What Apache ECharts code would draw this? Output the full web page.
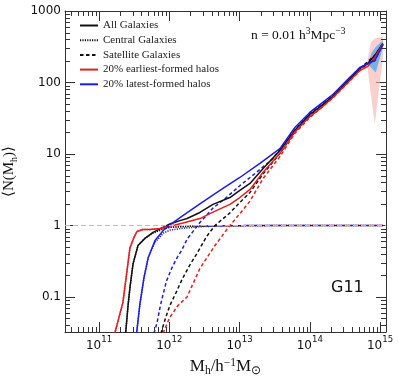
<!DOCTYPE html>
<html><head><meta charset="utf-8">
<script src="https://cdn.jsdelivr.net/npm/echarts@6/dist/echarts.min.js"></script>
<style>html,body{margin:0;padding:0;background:#fff}#c{width:399px;height:379px}</style>
</head><body><div id="c"></div>
<script>
// ---- tick labels ----
const xTickExps = [11, 12, 13, 14, 15];
const yTickValues = [0.1, 1, 10, 100, 1000];
const yTickLabels = ['0.1', '1', '10', '100', '1000'];

// ---- data (halo mass in h^-1 Msun, <N(M)>) ----
const allM = [2.27e11, 2.40e11, 2.59e11, 2.76e11, 3.05e11, 3.59e11, 4.51e11, 5.86e11, 8.13e11, 1.02e12, 1.42e12, 1.79e12, 2.73e12, 4.19e12, 7.30e12, 1.01e13, 1.41e13, 2.15e13, 3.76e13, 6.14e13, 1.0e14, 1.53e14, 2.13e14, 3.37e14, 5.16e14, 6.70e14, 8.43e14, 1.10e15];
const allN = [0.021, 0.032, 0.076, 0.136, 0.29, 0.525, 0.66, 0.80, 0.94, 1.05, 1.17, 1.25, 1.52, 1.97, 2.46, 3.09, 3.87, 6.2, 11.2, 21.5, 35.7, 49.1, 63.9, 100, 157, 184, 240, 351];

const earlyM = [1.58e11, 1.69e11, 2.19e11, 2.76e11, 3.15e11, 3.47e11, 4.23e11, 5.31e11, 7.38e11, 9.27e11, 1.21e12, 1.57e12, 2.73e12, 4.19e12, 7.30e12, 1.01e13, 1.41e13, 2.15e13, 3.76e13, 6.14e13, 1.0e14, 1.53e14, 2.13e14, 3.37e14, 5.16e14, 6.70e14, 8.43e14, 1.10e15];
const earlyN = [0.0246, 0.032, 0.084, 0.49, 0.68, 0.824, 0.879, 0.879, 0.908, 0.968, 1.016, 1.08, 1.25, 1.54, 1.97, 2.46, 3.19, 5.5, 10.2, 20.5, 33.4, 46.1, 61.7, 97, 147, 168, 224, 351];

const lateM = [3.36e11, 3.44e11, 3.83e11, 4.37e11, 5.03e11, 6.26e11, 8.22e11, 1.02e12, 1.58e12, 2.73e12, 5.26e12, 1.01e13, 1.95e13, 3.76e13, 6.14e13, 1.0e14, 1.53e14, 2.13e14, 3.37e14, 5.16e14, 6.70e14, 8.43e14, 1.10e15];
const lateN = [0.021, 0.032, 0.081, 0.187, 0.357, 0.617, 0.851, 1.016, 1.38, 2.01, 3.09, 4.69, 7.37, 11.9, 23.5, 38.1, 52.7, 68, 107, 162, 184, 203, 340];

const cenAllM = [2.27e11, 2.40e11, 2.59e11, 2.76e11, 3.05e11, 3.59e11, 4.51e11, 5.86e11, 8.13e11, 1.02e12, 1.67e12, 2.73e12, 1.0e13, 1.0e14, 1.10e15];
const cenAllN = [0.021, 0.032, 0.076, 0.136, 0.29, 0.525, 0.66, 0.78, 0.89, 0.94, 0.97, 0.985, 0.995, 1.0, 1.0];
const cenEarlyM = [1.58e11, 1.69e11, 2.19e11, 2.76e11, 3.15e11, 3.47e11, 4.23e11, 5.31e11, 7.38e11, 1.02e12, 2.0e12, 5.0e12, 1.0e14, 1.10e15];
const cenEarlyN = [0.0246, 0.032, 0.084, 0.49, 0.68, 0.824, 0.879, 0.879, 0.90, 0.94, 0.975, 0.99, 1.0, 1.0];
const cenLateM = [3.36e11, 3.44e11, 3.83e11, 4.37e11, 5.03e11, 6.26e11, 8.22e11, 1.02e12, 1.67e12, 2.73e12, 5.26e12, 1.0e13, 1.0e14, 1.10e15];
const cenLateN = [0.021, 0.032, 0.081, 0.187, 0.357, 0.58, 0.78, 0.86, 0.92, 0.96, 0.985, 0.995, 1.0, 1.0];

const satAllM = [7.62e11, 8.69e11, 1.02e12, 1.25e12, 1.52e12, 1.91e12, 2.48e12, 3.40e12, 4.47e12, 7.30e12, 1.01e13, 1.41e13, 2.15e13, 3.76e13, 6.14e13, 1.0e14, 2.13e14, 5.16e14, 8.43e14, 1.10e15];
const satAllN = [0.031, 0.048, 0.076, 0.115, 0.176, 0.267, 0.406, 0.70, 1.0, 1.5, 2.1, 2.9, 5.2, 10.2, 20.5, 34.7, 62.9, 156, 239, 350];
const satEarlyM = [8.13e11, 1.02e12, 1.33e12, 1.79e12, 2.73e12, 4.47e12, 7.30e12, 1.01e13, 1.41e13, 2.15e13, 3.76e13, 6.14e13, 1.0e14, 2.13e14, 5.16e14, 8.43e14, 1.10e15];
const satEarlyN = [0.031, 0.052, 0.076, 0.10, 0.25, 0.525, 1.0, 1.46, 2.19, 4.5, 9.2, 19.5, 32.4, 60.7, 146, 223, 350];
const satLateM = [6.05e11, 6.68e11, 7.38e11, 8.22e11, 9.19e11, 1.08e12, 1.27e12, 1.52e12, 1.79e12, 2.17e12, 2.73e12, 4.19e12, 6.62e12, 1.01e13, 1.77e13, 2.99e13, 5.21e13, 1.0e14, 2.13e14, 5.16e14, 8.43e14, 1.10e15];
const satLateN = [0.031, 0.043, 0.071, 0.112, 0.17, 0.25, 0.345, 0.46, 0.64, 0.82, 1.10, 1.75, 2.5, 3.6, 5.6, 8.6, 18.0, 37.1, 67, 161, 202, 339];

const bandEarlyM = [6.49e14, 7.40e14, 8.43e14, 9.62e14, 1.10e15];
const bandEarlyLo = [184, 70, 26, 77, 215];
const bandEarlyHi = [184, 364, 412, 425, 438];
const bandLateM = [6.70e14, 7.64e14, 8.71e14, 1.10e15];
const bandLateLo = [179, 157, 138, 309];
const bandLateHi = [184, 262, 317, 387];

// ---- axis limits ----
const X_MIN = Math.pow(10, 10.516), X_MAX = Math.pow(10, 15.085);
const Y_MIN = Math.pow(10, -1.49), Y_MAX = 1000;

const xMinor = [], yMinor = [];
for (let d = 10; d <= 14; d++) for (let k = 2; k <= 9; k++) { const v = k * Math.pow(10, d); if (v > X_MIN && v < X_MAX) xMinor.push(v); }
for (let d = -2; d <= 2; d++) for (let k = 2; k <= 9; k++) { const v = k * Math.pow(10, d); if (v > Y_MIN && v < Y_MAX) yMinor.push(v); }

const BLACK = '#111', RED = '#e41e1e', BLUE = '#1c1ce8', AXC = '#333';
const SOLID = 'solid', DASH = [3.5, 2.5], DOT = [1.2, 1.2];

function line(name, M, N, color, type, z) {
  return { name, type: 'line', data: M.map((m, i) => [m, N[i]]), symbol: 'none', showSymbol: false,
    lineStyle: { color, width: 1.5, type }, itemStyle: { color }, z, silent: true, animation: false };
}
function band(M, lo, hi, color) {
  return { type: 'custom', silent: true, z: 1, animation: false, data: M.map((m, i) => [m, lo[i], hi[i]]),
    encode: { x: 0, y: [1, 2] },
    renderItem: (params, api) => {
      if (params.dataIndex !== 0) return null;
      const pts = [];
      for (let i = 0; i < M.length; i++) pts.push(api.coord([M[i], lo[i]]));
      for (let i = M.length - 1; i >= 0; i--) pts.push(api.coord([M[i], hi[i]]));
      return { type: 'polygon', shape: { points: pts }, style: { fill: color } };
    } };
}
function minorSeries(vals, isX) {
  return { type: 'custom', silent: true, z: 10, animation: false, clip: false,
    data: vals.map(v => isX ? [v, Y_MIN] : [X_MIN, v]), encode: { x: 0, y: 1 },
    renderItem: (params, api) => {
      const cs = params.coordSys;
      const p = api.coord([api.value(0), api.value(1)]);
      const st = { stroke: AXC, lineWidth: 1 };
      if (isX) {
        const x = Math.round(p[0]) + 0.5, b = cs.y + cs.height, t = cs.y;
        return { type: 'group', children: [
          { type: 'line', shape: { x1: x, y1: b, x2: x, y2: b - 5 }, style: st },
          { type: 'line', shape: { x1: x, y1: t, x2: x, y2: t + 5 }, style: st }] };
      } else {
        const y = Math.round(p[1]) + 0.5, l = cs.x, r = cs.x + cs.width;
        return { type: 'group', children: [
          { type: 'line', shape: { x1: l, y1: y, x2: l + 5, y2: y }, style: st },
          { type: 'line', shape: { x1: r, y1: y, x2: r - 5, y2: y }, style: st }] };
      }
    } };
}
const near = (a, b) => Math.abs(Math.log10(a) - Math.log10(b)) < 1e-6;

const serif = 'Liberation Serif';
const chart = echarts.init(document.getElementById('c'), null, { renderer: 'canvas' });
const axLine = { show: true, lineStyle: { color: AXC, width: 1 } };
const majTick = { show: true, inside: true, length: 10, lineStyle: { color: AXC, width: 1 } };

const bandEarly = band(bandEarlyM, bandEarlyLo, bandEarlyHi, 'rgba(250,175,175,0.6)');
bandEarly.markLine = { silent: true, symbol: 'none', label: { show: false }, animation: false,
  lineStyle: { color: '#bbb', type: [5, 3], width: 1 }, data: [{ yAxis: 1 }] };

const option = {
  animation: false,
  backgroundColor: '#fff',
  grid: { left: 65, right: 13, top: 11, bottom: 47, outerBoundsMode: 'none' },
  title: [
    { text: '{t|n = 0.01 h}{p|3}{t|Mpc}{p|−3}', left: 251, top: 26, padding: 0,
      textStyle: { fontWeight: 'normal', rich: {
        t: { fontFamily: serif, fontSize: 13.5, fontWeight: 'normal', color: '#111', verticalAlign: 'bottom', lineHeight: 16 },
        p: { fontFamily: serif, fontSize: 9.5, fontWeight: 'normal', color: '#111', verticalAlign: 'top', lineHeight: 10 } } } },
    { text: 'G11', left: 331, top: 280, padding: 0,
      textStyle: { fontFamily: 'DejaVu Sans', fontSize: 16, fontWeight: 'normal', color: '#111' } }
  ],
  legend: {
    data: ['All Galaxies', 'Central Galaxies', 'Satellite Galaxies', '20% earliest-formed halos', '20% latest-formed halos'],
    orient: 'vertical', left: 79, top: 20, itemWidth: 18, itemHeight: 10, itemGap: 3.7, padding: 0,
    selectedMode: false, itemStyle: { opacity: 0 },
    textStyle: { fontFamily: serif, fontSize: 11, color: '#222' }
  },
  xAxis: [
    { type: 'log', logBase: 10, min: X_MIN, max: X_MAX, axisLine: axLine, axisTick: majTick, splitLine: { show: false },
      axisLabel: { showMinLabel: false, showMaxLabel: false, margin: 3,
        formatter: v => { const e = Math.round(Math.log10(v)); return (xTickExps.includes(e) && near(v, Math.pow(10, e))) ? '{b|10}{s|' + e + '}' : ''; },
        rich: {
          b: { fontFamily: 'DejaVu Sans', fontSize: 12, color: '#111', verticalAlign: 'bottom', lineHeight: 17 },
          s: { fontFamily: 'DejaVu Sans', fontSize: 8.5, color: '#111', verticalAlign: 'top', lineHeight: 10 } } },
      name: '{t|M}{b|h}{t|/h}{p|−1}{t|M}{b|⊙}', nameLocation: 'middle', nameGap: 12,
      nameTextStyle: { rich: {
        t: { fontFamily: serif, fontSize: 17, color: '#111', verticalAlign: 'middle', lineHeight: 20 },
        b: { fontFamily: serif, fontSize: 11.5, color: '#111', verticalAlign: 'bottom', lineHeight: 12 },
        p: { fontFamily: serif, fontSize: 11.5, color: '#111', verticalAlign: 'top', lineHeight: 12 } } } },
    { type: 'log', logBase: 10, min: X_MIN, max: X_MAX, position: 'top', axisLine: axLine, axisTick: majTick,
      axisLabel: { show: false }, splitLine: { show: false } }
  ],
  yAxis: [
    { type: 'log', logBase: 10, min: Y_MIN, max: Y_MAX, axisLine: axLine, axisTick: majTick, splitLine: { show: false },
      axisLabel: { showMinLabel: false, margin: 4, fontFamily: 'DejaVu Sans', fontSize: 12, color: '#111',
        formatter: v => { const i = yTickValues.findIndex(t => near(t, v)); return i >= 0 ? yTickLabels[i] : ''; } },
      name: '{t|⟨N(M}{b|h}{t|)⟩}', nameLocation: 'middle', nameGap: 32, nameRotate: 90,
      nameTextStyle: { rich: {
        t: { fontFamily: serif, fontSize: 15, color: '#111', verticalAlign: 'middle', lineHeight: 20 },
        b: { fontFamily: serif, fontSize: 10, color: '#111', verticalAlign: 'bottom', lineHeight: 12 } } } },
    { type: 'log', logBase: 10, min: Y_MIN, max: Y_MAX, position: 'right', axisLine: axLine, axisTick: majTick,
      axisLabel: { show: false }, splitLine: { show: false } }
  ],
  series: [
    bandEarly,
    band(bandLateM, bandLateLo, bandLateHi, 'rgba(70,170,245,0.75)'),
    line('cenE', cenEarlyM, cenEarlyN, RED, DOT, 2),
    line('cenL', cenLateM, cenLateN, BLUE, DOT, 3),
    line('Central Galaxies', cenAllM, cenAllN, BLACK, DOT, 3),
    line('satL', satLateM, satLateN, BLUE, DASH, 3),
    line('Satellite Galaxies', satAllM, satAllN, BLACK, DASH, 3),
    line('satE', satEarlyM, satEarlyN, RED, DASH, 3),
    line('All Galaxies', allM, allN, BLACK, SOLID, 4),
    line('20% earliest-formed halos', earlyM, earlyN, RED, SOLID, 4),
    line('20% latest-formed halos', lateM, lateN, BLUE, SOLID, 4),
    minorSeries(xMinor, true),
    minorSeries(yMinor, false)
  ]
};
chart.setOption(option);
</script></body></html>
